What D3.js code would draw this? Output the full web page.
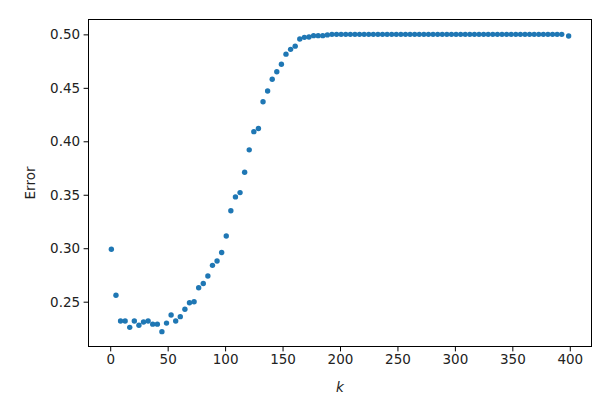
<!DOCTYPE html>
<html>
<head>
<meta charset="utf-8">
<script src="https://cdn.jsdelivr.net/npm/d3@7"></script>
<style>
  html, body { margin: 0; padding: 0; background: #fff; }
  svg { display: block; }
  text { font-family: "DejaVu Sans", sans-serif; fill: #222; }
</style>
</head>
<body>
<svg id="chart" width="616" height="404"></svg>
<script>
const kValues = [
  1, 5, 9, 13, 17, 21, 25, 29, 33, 37,
  41, 45, 49, 53, 57, 61, 65, 69, 73, 77,
  81, 85, 89, 93, 97, 101, 105, 109, 113, 117,
  121, 125, 129, 133, 137, 141, 145, 149, 153, 157,
  161, 165, 169, 173, 177, 181, 185, 189, 193, 197,
  201, 205, 209, 213, 217, 221, 225, 229, 233, 237,
  241, 245, 249, 253, 257, 261, 265, 269, 273, 277,
  281, 285, 289, 293, 297, 301, 305, 309, 313, 317,
  321, 325, 329, 333, 337, 341, 345, 349, 353, 357,
  361, 365, 369, 373, 377, 381, 385, 389, 393, 399
];
const errorValues = [
  0.299, 0.256, 0.232, 0.232, 0.226, 0.232, 0.228, 0.231, 0.232, 0.229,
  0.229, 0.222, 0.230, 0.2375, 0.232, 0.236, 0.243, 0.249, 0.250, 0.263,
  0.267, 0.274, 0.284, 0.288, 0.296, 0.3115, 0.335, 0.348, 0.352, 0.371,
  0.392, 0.409, 0.412, 0.437, 0.447, 0.458, 0.465, 0.472, 0.4815, 0.486,
  0.489, 0.4956, 0.4972, 0.4975, 0.4988, 0.4988, 0.4988, 0.4995, 0.5, 0.5,
  0.5, 0.5, 0.5, 0.5, 0.5, 0.5, 0.5, 0.5, 0.5, 0.5,
  0.5, 0.5, 0.5, 0.5, 0.5, 0.5, 0.5, 0.5, 0.5, 0.5,
  0.5, 0.5, 0.5, 0.5, 0.5, 0.5, 0.5, 0.5, 0.5, 0.5,
  0.5, 0.5, 0.5, 0.5, 0.5, 0.5, 0.5, 0.5, 0.5, 0.5,
  0.5, 0.5, 0.5, 0.5, 0.5, 0.5, 0.5, 0.5, 0.5, 0.4985
];
const xTicks = [0, 50, 100, 150, 200, 250, 300, 350, 400];
const yTicks = [0.25, 0.30, 0.35, 0.40, 0.45, 0.50];
const xLabel = "k";
const yLabel = "Error";

const plotLeft = 88.5, plotRight = 591.5, plotTop = 19.5, plotBottom = 346.5;
const svg = d3.select("#chart");

function padded(ext) {
  const m = (ext[1] - ext[0]) * 0.05;
  return [ext[0] - m, ext[1] + m];
}
const x = d3.scaleLinear().domain(padded(d3.extent(kValues))).range([plotLeft, plotRight]);
const y = d3.scaleLinear().domain(padded(d3.extent(errorValues))).range([plotBottom, plotTop]);

const points = kValues.map((k, i) => ({ k, e: errorValues[i] }));

svg.append("g")
  .selectAll("circle")
  .data(points)
  .join("circle")
  .attr("cx", d => x(d.k))
  .attr("cy", d => y(d.e))
  .attr("r", 2.7)
  .attr("fill", "#1f77b4");

const fontSize = "13.5px";

const xAxis = svg.append("g")
  .attr("transform", `translate(0,${plotBottom})`)
  .call(d3.axisBottom(x).tickValues(xTicks).tickSize(4.9).tickPadding(3.5).tickFormat(d3.format("d")));
xAxis.select(".domain").remove();
xAxis.selectAll("line").attr("stroke", "#000").attr("stroke-width", 1);
xAxis.selectAll("text").attr("font-size", fontSize).attr("font-family", "DejaVu Sans").attr("fill", "#222");

const yAxis = svg.append("g")
  .attr("transform", `translate(${plotLeft},0)`)
  .call(d3.axisLeft(y).tickValues(yTicks).tickSize(4.9).tickPadding(3.5).tickFormat(d3.format(".2f")));
yAxis.select(".domain").remove();
yAxis.selectAll("line").attr("stroke", "#000").attr("stroke-width", 1);
yAxis.selectAll("text").attr("font-size", fontSize).attr("font-family", "DejaVu Sans").attr("fill", "#222");

svg.append("rect")
  .attr("x", plotLeft).attr("y", plotTop)
  .attr("width", plotRight - plotLeft).attr("height", plotBottom - plotTop)
  .attr("fill", "none").attr("stroke", "#000").attr("stroke-width", 1);

svg.append("text")
  .attr("x", (plotLeft + plotRight) / 2)
  .attr("y", 392)
  .attr("text-anchor", "middle")
  .attr("font-size", fontSize)
  .attr("font-style", "italic")
  .text(xLabel);

svg.append("text")
  .attr("transform", `translate(35,${(plotTop + plotBottom) / 2}) rotate(-90)`)
  .attr("text-anchor", "middle")
  .attr("font-size", fontSize)
  .text(yLabel);
</script>
</body>
</html>
